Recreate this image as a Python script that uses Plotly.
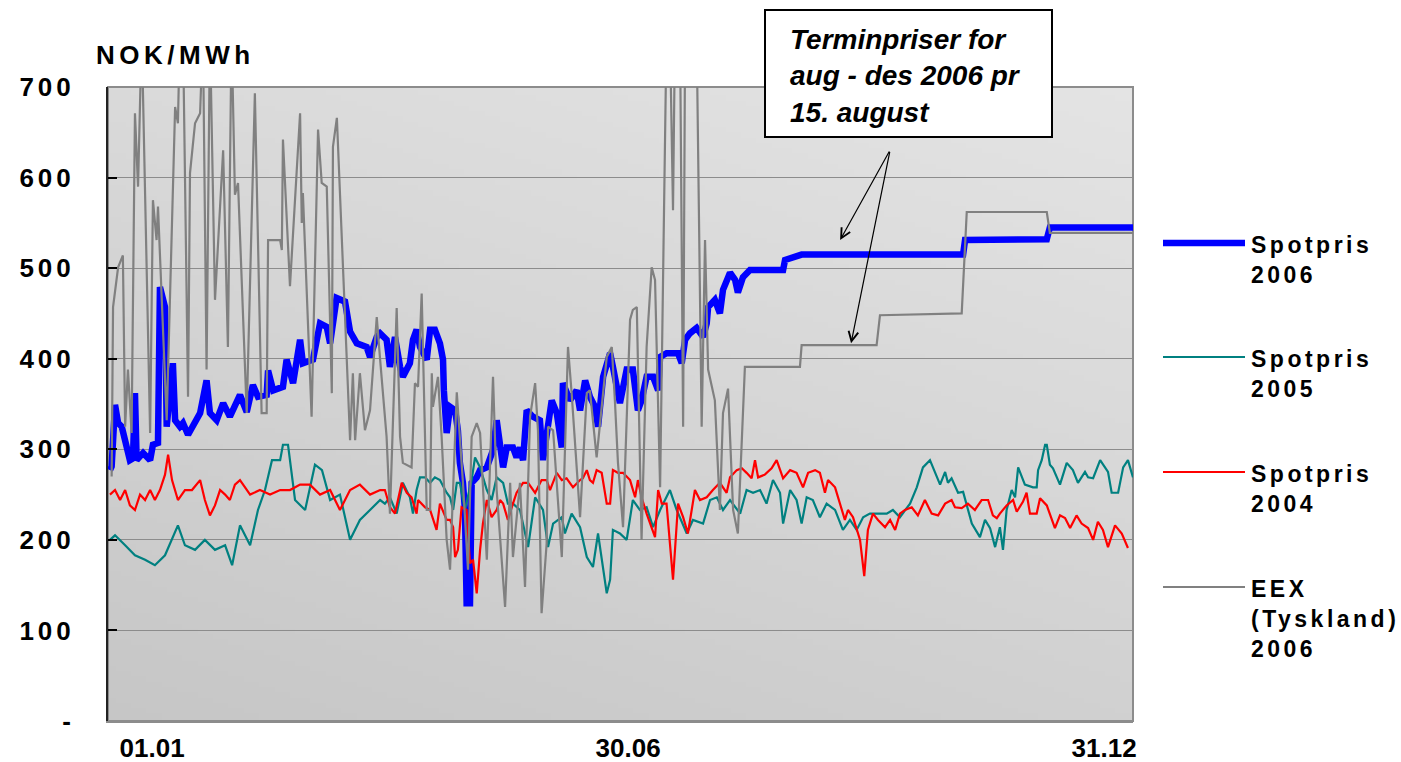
import base64
import struct
import zlib

import plotly.graph_objects as go

# ---------------- data (day of year, NOK/MWh) ----------------
spot_2006 = [
    (0.7, 277), (1.3, 281), (2.5, 349), (3.6, 329), (4.9, 325), (6.7, 303), (7.8, 288), (8.9, 290), (9.6, 362), (10.2, 288),
    (12.5, 296), (15, 288), (16, 305), (17.8, 307), (18.5, 479), (20.3, 457), (20.9, 325), (23.1, 395), (23.9, 332), (25.6, 325),
    (26.7, 329), (28.5, 316), (31.6, 332), (32.8, 340), (35.1, 376), (36.3, 340), (38.7, 332), (41, 351), (43.4, 336), (47, 360),
    (49.4, 341), (51.6, 371), (53.4, 358), (56.5, 360), (57, 387), (58.8, 365), (62.3, 369), (63.6, 399), (65.9, 373), (68.4, 421),
    (69.4, 395), (73, 399), (75.5, 439), (77.9, 435), (79.1, 417), (81.4, 467), (84.4, 463), (86.2, 430), (88.6, 417), (92.1, 413),
    (93.3, 402), (95.7, 424), (96.9, 428), (99.2, 421), (100.4, 391), (102.2, 424), (104, 391), (105, 380), (107.5, 395), (108.6, 421),
    (109.9, 432), (111.1, 413), (113.5, 399), (114.7, 432), (116.4, 432), (118.2, 417), (119.3, 399), (119.6, 365), (120.6, 318), (121.8, 347),
    (123.6, 343), (124.6, 321), (125.3, 285), (126.4, 263), (127.1, 233), (127.7, 130), (128.9, 130), (129.5, 263), (131.3, 269), (132.5, 277),
    (134.9, 280), (136, 291), (137.1, 299), (138.4, 332), (139.6, 307), (140.7, 280), (142, 302), (144.2, 302), (145.5, 291), (146.7, 302),
    (147.8, 288), (149.1, 343), (151.3, 336), (153.8, 332), (154.9, 288), (156.2, 313), (158, 354), (159.8, 340), (161.6, 302), (162, 373),
    (164.5, 354), (166.9, 365), (168.1, 343), (169.9, 376), (171.6, 358), (173.4, 347), (174.5, 325), (176.3, 380), (178.8, 406), (179.8, 391),
    (182.3, 351), (184.7, 388), (186.9, 388), (188.7, 343), (190, 354), (191.8, 380), (194.1, 380), (195.9, 365), (196.6, 402), (198.9, 406),
    (203, 406), (204.3, 395), (205.5, 421), (207.2, 428), (209.6, 434), (211.9, 424), (213.2, 439), (213.7, 457), (216.1, 465), (217.9, 450),
    (219, 476), (221.5, 495), (223.3, 487), (224.3, 473), (226.1, 490), (228.6, 498), (240.4, 498), (241.1, 509), (242.9, 511), (247, 515),
    (304.5, 515), (305.2, 531), (334.3, 532), (335.4, 545), (365, 545),
]

spot_2005 = [
    (0.7, 200), (2.5, 205), (6.1, 194), (9.6, 183), (13.2, 178), (16.7, 172), (20.3, 183), (24.9, 216), (27.4, 194), (31, 189),
    (34.5, 200), (38.1, 189), (41.7, 194), (44.2, 172), (47, 216), (50.6, 194), (53.4, 233), (55.9, 255), (58.4, 288), (61.3, 288),
    (62.3, 305), (64.1, 305), (66.6, 244), (70.2, 233), (73.7, 283), (76.2, 277), (79.1, 244), (82.6, 250), (86.2, 200), (89.7, 222),
    (93.3, 233), (96.9, 244), (98.6, 240), (100.4, 247), (102.8, 229), (105, 263), (107.5, 247), (108.6, 229), (109.9, 255), (111.1, 269),
    (112.9, 269), (114.7, 263), (116.4, 269), (118.2, 266), (120.6, 252), (121.8, 247), (122.9, 233), (124.2, 263), (125.3, 263), (127.1, 233),
    (129.5, 266), (130.7, 291), (132.5, 280), (134.9, 255), (136.6, 244), (138.4, 269), (140.7, 263), (142.4, 240), (144.2, 240), (146.7, 233),
    (149.6, 192), (152.1, 247), (154.9, 233), (156.7, 192), (158.5, 218), (161.6, 225), (162.7, 207), (165.1, 229), (168.1, 214), (170.5, 181),
    (172.7, 170), (174.5, 207), (177.6, 141), (178.8, 156), (179.8, 211), (182.3, 207), (184.7, 200), (186.9, 244), (189.4, 233), (191.8, 236),
    (194.1, 214), (196.6, 233), (200.1, 255), (202.5, 233), (206.1, 207), (208.3, 222), (211.9, 218), (214.4, 244), (216.8, 247), (219, 233),
    (221.5, 244), (225.1, 229), (227.4, 255), (229.7, 252), (232.2, 255), (234.5, 240), (236.8, 266), (239.3, 252), (240.4, 218), (242.9, 255),
    (245.2, 244), (247, 218), (248.8, 247), (251, 244), (253.5, 225), (255.9, 240), (258.9, 233), (261.7, 211), (264.2, 222), (266.6, 211),
    (268.9, 225), (271.3, 229), (277.3, 229), (279.5, 233), (282, 225), (285.6, 240), (288, 258), (290.2, 280), (292.7, 288), (296.3, 261),
    (298.1, 275), (299.1, 263), (300.4, 268), (302.7, 252), (304.5, 253), (306.2, 235), (307.6, 218), (310.5, 203), (312.3, 222), (314.1, 213),
    (315.9, 192), (317.6, 214), (318.7, 189), (320, 233), (321.8, 255), (323, 247), (324.1, 280), (326.5, 261), (329.4, 258), (330.7, 258),
    (331.2, 277), (332.5, 288), (333.7, 305), (334.3, 305), (335.4, 283), (336.5, 279), (339, 261), (341.4, 285), (343.6, 277), (345.4, 263),
    (347.9, 275), (349, 269), (350.8, 268), (353.3, 288), (356.1, 275), (357.4, 252), (359.7, 252), (361.5, 280), (363.2, 288), (365, 269),
]

spot_2004 = [
    (0.7, 250), (2.5, 255), (4.3, 244), (6.1, 255), (7.8, 238), (9.6, 233), (11.4, 250), (13.2, 244), (15, 255), (16.7, 244),
    (18.5, 255), (20.3, 272), (21.4, 294), (22.8, 266), (24.9, 244), (27.4, 255), (29.9, 255), (32.8, 266), (34.5, 244), (36.3, 227),
    (38.1, 238), (39.9, 255), (41.7, 250), (43.4, 244), (45.2, 261), (47, 266), (50.6, 250), (54.1, 255), (57.7, 250), (61.3, 255),
    (64.8, 255), (68.4, 261), (71.9, 261), (75.5, 250), (79.1, 255), (82.6, 233), (86.2, 255), (89.7, 261), (93.3, 250), (96.9, 255),
    (98.6, 255), (100.4, 236), (102.2, 229), (104.6, 263), (106.4, 252), (108.1, 247), (109.9, 229), (110.4, 244), (112.9, 236), (114.7, 233),
    (117, 211), (118.2, 240), (120.6, 222), (121.8, 222), (122.9, 214), (123.6, 181), (124.6, 189), (125.9, 236), (127.7, 233), (128.9, 174),
    (130, 178), (131.3, 141), (132.5, 189), (133.5, 218), (134.9, 244), (136.6, 225), (138.4, 233), (139.6, 244), (140.7, 240), (142.4, 222),
    (144.2, 240), (145.5, 252), (147.8, 263), (149.6, 263), (152.1, 252), (154.4, 266), (156.2, 266), (157.4, 255), (159.8, 274), (161.6, 266),
    (163.3, 268), (165.6, 258), (168.1, 266), (169.1, 268), (170.5, 277), (171.6, 266), (172.7, 263), (174, 277), (175.8, 274), (177.6, 240),
    (178.8, 240), (179.8, 277), (181.6, 274), (183.4, 274), (185.9, 266), (187.7, 247), (188.7, 266), (190, 247), (191.8, 229), (193.6, 214),
    (194.8, 203), (195.9, 255), (197.2, 240), (198.9, 240), (201.2, 156), (203, 240), (204.8, 225), (206.5, 207), (209, 255), (210.8, 244),
    (213.2, 247), (215.4, 255), (217.9, 263), (220.3, 252), (221.5, 269), (223.9, 277), (225.7, 279), (227.4, 274), (229.2, 268), (230.4, 288),
    (231.5, 269), (233.9, 272), (236.3, 279), (238.1, 288), (240.4, 268), (242.9, 277), (245.2, 274), (247.5, 258), (249.3, 274), (251.8, 277),
    (253.5, 274), (255.3, 252), (256.4, 266), (258.9, 258), (260.6, 240), (262.4, 222), (263.5, 233), (265.3, 225), (267.8, 200), (269.3, 160),
    (270.6, 211), (272.4, 229), (274.2, 222), (276.7, 214), (278.5, 222), (280.3, 211), (282, 229), (283.8, 233), (286.2, 236), (288.4, 227),
    (290.9, 244), (293.3, 229), (295.6, 227), (298.1, 240), (300.4, 244), (301.6, 236), (304, 235), (306.2, 240), (308.7, 233), (311.1, 244),
    (313.4, 244), (315.1, 227), (316.5, 224), (317.6, 229), (320, 238), (322.3, 244), (323.6, 231), (325.8, 242), (327.1, 252), (328.3, 229),
    (330.7, 229), (331.9, 246), (334.3, 238), (337.2, 213), (339, 227), (340.8, 224), (342.6, 213), (344.9, 227), (346.7, 218), (349, 213),
    (350.8, 200), (352.5, 220), (354.3, 211), (356.1, 192), (358.6, 216), (361, 207), (363.2, 191),
]

eex_2006 = [
    (1.3, 270), (1.8, 457), (3.6, 501), (4.9, 512), (5.3, 514), (6.1, 325), (7.1, 388), (8.4, 318), (9.6, 671), (10.7, 590),
    (12, 760), (15, 318), (16, 575), (17.3, 531), (17.8, 568), (20.9, 332), (23.9, 678), (24.9, 660), (25.6, 760), (26.7, 760),
    (28.5, 358), (29.2, 605), (31, 660), (32.8, 671), (33.8, 760), (35.1, 388), (36.3, 760), (38.1, 465), (41, 630), (42.7, 413),
    (44, 760), (45.2, 581), (46.3, 594), (49.4, 340), (51.2, 553), (52.3, 693), (54.7, 340), (56.5, 340), (57, 531), (61.3, 531),
    (61.9, 520), (62.3, 642), (64.8, 480), (67.2, 612), (68.4, 671), (69, 550), (69.4, 583), (72.5, 336), (74.8, 653), (76.1, 594),
    (77.9, 590), (79.7, 362), (80.1, 634), (81.5, 666), (83.7, 498), (86.2, 310), (87.2, 384), (88, 310), (89.7, 384), (91.5, 321),
    (93.3, 343), (95.7, 446), (96.9, 399), (99.2, 314), (100.4, 229), (102.8, 456), (104, 314), (105, 285), (108.1, 280), (109.3, 373),
    (110.4, 369), (111.7, 472), (113.5, 233), (114.7, 233), (115.3, 384), (115.7, 347), (117.5, 380), (118.8, 314), (120.6, 200), (121.8, 167),
    (124.2, 363), (126.4, 263), (128.2, 167), (129.5, 314), (131.3, 329), (132.5, 318), (134.9, 178), (137.1, 380), (138.4, 255), (141.4, 126),
    (143.2, 263), (144.2, 181), (146.7, 263), (148.5, 148), (150.3, 336), (152.1, 373), (153.1, 321), (154.4, 119), (156.2, 196), (156.7, 325),
    (158.5, 321), (161.6, 181), (163.8, 413), (165.1, 362), (168.1, 225), (170.5, 362), (171.6, 365), (174, 291), (177.6, 402), (179.4, 413),
    (180.5, 354), (181.6, 285), (183.4, 214), (185.9, 443), (186.9, 454), (188.3, 457), (190, 200), (191.8, 413), (193.6, 501), (194.8, 487),
    (196.6, 258), (198.9, 760), (200.1, 760), (201.2, 564), (201.9, 760), (203.7, 760), (204.8, 325), (205.5, 760), (209.6, 760), (211.4, 325),
    (212.6, 531), (213.7, 388), (216.1, 354), (217.9, 233), (219, 340), (220.8, 367), (222.6, 233), (224.3, 207), (226.8, 391), (246.4, 391),
    (247, 415), (273.7, 415), (274.9, 448), (304, 450), (305.8, 562), (334.3, 562), (335.4, 539), (365, 539),
]

series_names = ["Spotpris<br>2006", "Spotpris<br>2005", "Spotpris<br>2004", "EEX<br>(Tyskland)<br>2006"]
y_tick_values = [0, 100, 200, 300, 400, 500, 600, 700]
y_tick_labels = ["-", "100", "200", "300", "400", "500", "600", "700"]
x_tick_values = [15.7, 185.2, 354.7]
x_tick_labels = ["01.01", "30.06", "31.12"]
y_unit = "NOK/MWh"
note_text = "Terminpriser for<br>aug - des 2006 pr<br>15. august"

# ---------------- style ----------------
FONT = "Liberation Sans, Arial, sans-serif"
colors = ["#0000FF", "#008080", "#FF0000", "#808080"]
widths = [6.5, 2.2, 2.2, 2.2]

W, H = 1401, 762
L, R, T, B = 108, 1133, 87, 721  # plot area in pixels


def px_x(px):
    return (px - L) / (R - L)


def px_y(py):
    return (B - py) / (B - T)


def gradient_png(w=200, h=120, c_lo=198, c_hi=228):
    raw = bytearray()
    for j in range(h):
        raw.append(0)
        for i in range(w):
            t = 0.65 * (1 - j / (h - 1)) + 0.35 * (i / (w - 1))
            raw.append(int(round(c_lo + (c_hi - c_lo) * t)))

    def chunk(tag, data):
        return (struct.pack(">I", len(data)) + tag + data
                + struct.pack(">I", zlib.crc32(tag + data) & 0xFFFFFFFF))

    png = (b"\x89PNG\r\n\x1a\n"
           + chunk(b"IHDR", struct.pack(">IIBBBBB", w, h, 8, 0, 0, 0, 0))
           + chunk(b"IDAT", zlib.compress(bytes(raw)))
           + chunk(b"IEND", b""))
    return "data:image/png;base64," + base64.b64encode(png).decode()


fig = go.Figure()
all_series = [spot_2006, spot_2005, spot_2004, eex_2006]
# draw order: 2006 first (bottom), EEX last (top) as in the original
for pts, name, col, wd in zip(all_series, series_names, colors, widths):
    fig.add_trace(go.Scatter(
        x=[p[0] for p in pts], y=[p[1] for p in pts], mode="lines",
        name=name.replace("<br>", " "), line=dict(color=col, width=wd),
        showlegend=False, hoverinfo="skip",
    ))

annotations = []
shapes = []

# custom legend (long line samples like the original)
legend_y = [243, 357, 472, 587]
for name, col, wd, ly in zip(series_names, colors, widths, legend_y):
    shapes.append(dict(type="line", xref="paper", yref="paper",
                       x0=px_x(1163), x1=px_x(1245), y0=px_y(ly), y1=px_y(ly),
                       line=dict(color=col, width=wd), layer="above"))
    annotations.append(dict(text=name, xref="paper", yref="paper",
                            x=px_x(1249), y=px_y(ly - 13), xanchor="left", yanchor="top",
                            showarrow=False, align="left",
                            font=dict(family=FONT, size=23, color="black", weight="bold")))

# y unit
annotations.append(dict(text=y_unit, xref="paper", yref="paper",
                        x=px_x(94), y=px_y(55), xanchor="left", yanchor="middle",
                        showarrow=False, align="left",
                        font=dict(family=FONT, size=26, color="black", weight="bold")))

# note box (frame as a shape, text as an annotation)
shapes.append(dict(type="rect", xref="paper", yref="paper",
                   x0=px_x(765), x1=px_x(1052), y0=px_y(137), y1=px_y(10),
                   fillcolor="white", line=dict(color="black", width=2), layer="above"))
annotations.append(dict(text=note_text, xref="paper", yref="paper",
                        x=px_x(788), y=px_y(76), xanchor="left", yanchor="middle",
                        showarrow=False, align="left",
                        font=dict(family=FONT, size=28, color="black", weight="bold", style="italic")))

# arrows from the note
for tip_x, tip_y, ax, ay in [(260.7, 531, 50, -90), (264.6, 417, 39, -193)]:
    annotations.append(dict(text="", x=tip_x, y=tip_y, xref="x", yref="y",
                            ax=ax, ay=ay, showarrow=True, arrowhead=5, arrowsize=1.6,
                            arrowwidth=1.2, arrowcolor="black"))

# plot border (grey) on top/right
shapes.append(dict(type="rect", xref="paper", yref="paper", x0=0, x1=1, y0=0, y1=1,
                   line=dict(color="#8C8C8C", width=2), layer="below"))

fig.update_layout(
    width=W, height=H,
    margin=dict(l=L, r=W - R, t=T, b=H - B, pad=0, autoexpand=False),
    paper_bgcolor="white",
    plot_bgcolor="#D6D6D6",
    font=dict(family=FONT, color="black"),
    showlegend=False,
    annotations=annotations,
    shapes=shapes,
    images=[dict(source=gradient_png(), xref="paper", yref="paper", x=0, y=1,
                 sizex=1, sizey=1, sizing="stretch", layer="below", xanchor="left", yanchor="top")],
    xaxis=dict(range=[0, 365], tickmode="array", tickvals=x_tick_values, ticktext=x_tick_labels,
               showgrid=False, zeroline=False, ticks="", showline=True, linecolor="#8C8C8C",
               linewidth=2, ticklabelstandoff=3, automargin=False,
               tickfont=dict(family=FONT, size=26, color="black", weight="bold")),
    yaxis=dict(range=[0, 700], tickmode="array", tickvals=y_tick_values, ticktext=y_tick_labels,
               showgrid=True, gridcolor="#8C8C8C", gridwidth=1.3, zeroline=False,
               ticks="inside", ticklen=9, tickwidth=2, tickcolor="black",
               showline=True, linecolor="#222222", linewidth=2, ticklabelstandoff=26,
               automargin=False,
               tickfont=dict(family=FONT, size=26, color="black", weight="bold")),
)

post = """
document.body.style.margin='0';document.body.style.overflow='hidden';
(function(){
  var gd=document.getElementById('{plot_id}');
  function sp(){
    gd.querySelectorAll('.ytick text').forEach(function(e){e.style.letterSpacing='4px';});
    gd.querySelectorAll('.annotation-text').forEach(function(e){
      var t=e.textContent||'';
      if(t.indexOf('NOK')===0){e.style.letterSpacing='4.5px';}
      else if(t.indexOf('Spotpris')===0||t.indexOf('EEX')===0){e.style.letterSpacing='3.5px';}
    });
  }
  sp();
  if(gd.on){gd.on('plotly_afterplot', sp);}
  setTimeout(sp, 50);
})();
"""

fig.write_html("out.html", config={"displayModeBar": False}, post_script=post)
